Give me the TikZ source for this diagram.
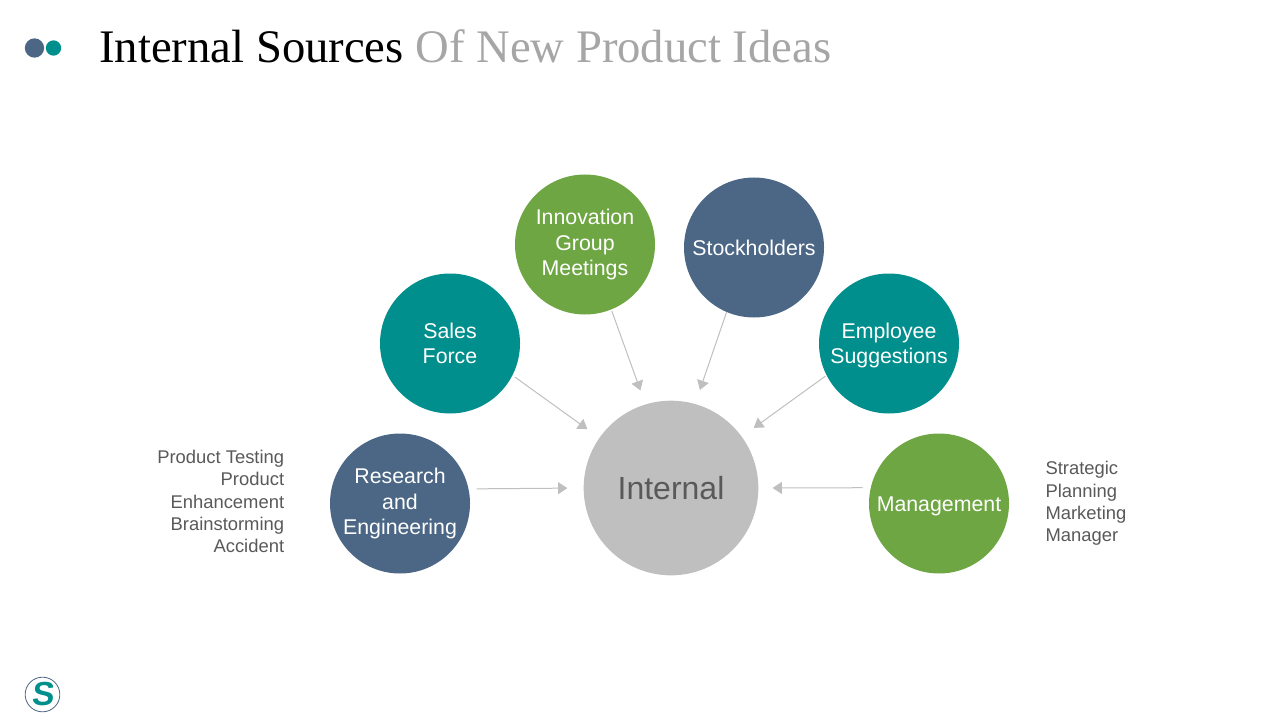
\documentclass[tikz,border=0pt]{standalone}
\usepackage{fontspec}
\setmainfont{Liberation Sans}
\newfontfamily\titlefont{Liberation Serif}
\newfontfamily\logofont[BoldFeatures={FakeSlant=0.1}]{Liberation Sans}
\usetikzlibrary{arrows.meta,positioning}
\definecolor{slate}{HTML}{4C6785}
\definecolor{teal1}{HTML}{008F8C}
\definecolor{leaf}{HTML}{6FA644}
\definecolor{lt}{HTML}{BFBFBF}
\definecolor{txt}{HTML}{595959}
\definecolor{ttl}{HTML}{A6A6A6}
\tikzset{
  disc/.style={circle,minimum size=105pt,inner sep=0pt,align=center,text=white,font=\fontsize{16}{19}\selectfont},
  sbox/.style={disc,fill=slate},
  tbox/.style={disc,fill=teal1},
  gbox/.style={disc,fill=leaf},
  note/.style={inner sep=0pt,text=txt,font=\fontsize{13.8}{16.8}\selectfont},
  ar/.style={-{Triangle[length=7pt,width=9pt]},line width=.75pt,draw=lt},
}
\begin{document}
\begin{tikzpicture}[x=.75pt,y=-.75pt]
\useasboundingbox (0,0) rectangle (1280,720);
\node[inner sep=0pt,anchor=base west,font=\titlefont\fontsize{35}{38}\selectfont] (title) at (99,62.5) {Internal Sources \textcolor{ttl}{Of New Product Ideas}};
\node[circle,fill=slate,minimum size=14.5pt,inner sep=0pt] (dota) at (34.5,48) {};
\node[circle,fill=teal1,minimum size=11.5pt,inner sep=0pt] (dotb) at (53.5,48) {};
\node[circle,draw=slate,line width=.6pt,minimum size=26pt,inner sep=0pt,text=teal1,font=\fontsize{25}{25}\selectfont\logofont\bfseries] (logo) at (42.5,694.5) {S};

\node[circle,fill=lt,minimum size=131pt,inner sep=0pt,text=txt,font=\fontsize{24}{30}\selectfont] (internal) at (671,488) {Internal};
\node[sbox] (research) at (400,503.5) {Research\\and\\Engineering};
\node[tbox] (sales) at (450,343.5) {Sales\\Force};
\node[gbox] (innovation) at (585,244.5) {Innovation\\Group\\Meetings};
\node[sbox] (stock) at (754,247.5) {Stockholders};
\node[tbox] (employee) at (889,343.5) {\rule{0pt}{15pt}Employee\\Suggestions};
\node[gbox,text height=12.6pt,text depth=0pt] (mgmt) at (939,503.5) {Management};

\node[note,align=right,left=34pt of research,yshift=1.5pt] (testing) {Product Testing\\Product\\Enhancement\\Brainstorming\\Accident};
\node[note,align=left,right=27pt of mgmt] (planning) {Strategic\\Planning\\Marketing\\Manager};

\draw[ar,shorten <=2pt,shorten >=11pt] (sales.-27) -- (internal.145);
\draw[ar,shorten <=1pt,shorten >=11pt] (innovation.-68) -- (internal.107);
\draw[ar,shorten >=11pt] (stock.-113) -- (internal.74);
\draw[ar,shorten <=1pt,shorten >=11pt] (employee.207) -- (internal.36);
\draw[ar,shorten <=6pt,shorten >=12pt] (research.12.5) -- (internal.180);
\draw[ar,shorten <=6pt,shorten >=10.5pt] (mgmt.167.5) -- (internal.0);
\end{tikzpicture}
\end{document}
